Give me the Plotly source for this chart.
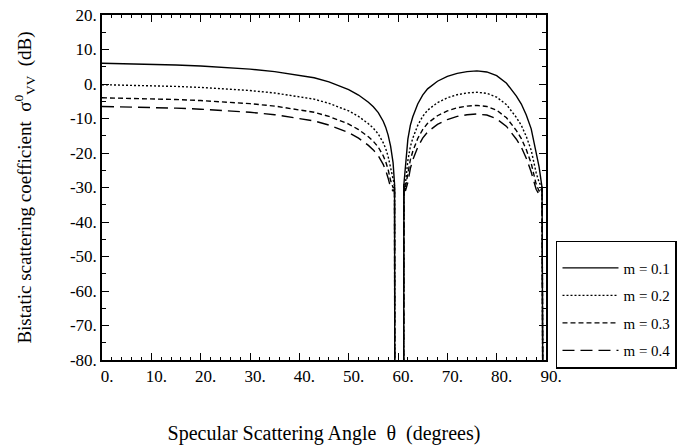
import plotly.graph_objects as go

# ---- data ----
theta_left = [0, 5, 10, 15, 20, 25, 30, 35, 40, 43, 46, 48, 50, 52, 53, 54, 55, 56, 57, 57.5, 58, 58.5, 59.0, 59.3, 59.4]
theta_right = [61.1, 61.2, 61.5, 62, 62.5, 63, 64, 65, 66, 68, 70, 72, 74, 76, 78, 80, 82, 84, 85, 86, 87, 88, 88.6, 89.2, 89.5]

m01_left = [6.0, 5.9, 5.7, 5.5, 5.2, 4.8, 4.3, 3.6, 2.6, 1.8, 0.6, -0.4, -1.6, -3.2, -4.2, -5.3, -6.6, -8.3, -10.8, -12.5, -14.8, -18.0, -22.8, -29.0, -150]
m02_left = [-0.2, -0.3, -0.5, -0.7, -1.0, -1.4, -1.9, -2.6, -3.6, -4.4, -5.6, -6.6, -7.8, -9.4, -10.4, -11.5, -12.8, -14.5, -17.0, -18.7, -21.0, -24.2, -28.0, -29.5, -150]
m03_left = [-4.0, -4.1, -4.3, -4.5, -4.8, -5.2, -5.7, -6.4, -7.4, -8.2, -9.4, -10.4, -11.6, -13.2, -14.2, -15.3, -16.6, -18.3, -20.8, -22.5, -24.8, -28.0, -30.0, -30.0, -150]
m04_left = [-6.5, -6.6, -6.8, -7.0, -7.3, -7.7, -8.2, -8.9, -9.9, -10.7, -11.9, -12.9, -14.1, -15.7, -16.7, -17.8, -19.1, -20.8, -23.3, -25.0, -27.3, -30.0, -31.0, -30.5, -150]

m01_right = [-150, -29.0, -23.0, -16.0, -12.0, -9.5, -5.8, -3.2, -1.4, 0.8, 2.2, 3.1, 3.6, 3.8, 3.5, 2.4, 0.2, -3.5, -5.8, -9.0, -13.0, -19.5, -24.0, -30.0, -150]
m02_right = [-150, -29.0, -29.0, -22.2, -18.2, -15.7, -12.0, -9.4, -7.6, -5.4, -4.0, -3.1, -2.6, -2.4, -2.7, -3.8, -6.0, -9.7, -12.0, -15.2, -19.2, -25.7, -28.5, -30.0, -150]
m03_right = [-150, -29.0, -30.0, -26.0, -22.0, -19.5, -15.8, -13.2, -11.4, -9.2, -7.8, -6.9, -6.4, -6.2, -6.5, -7.6, -9.8, -13.5, -15.8, -19.0, -23.0, -29.0, -31.0, -30.0, -150]
m04_right = [-150, -29.0, -31.0, -28.5, -24.5, -22.0, -18.3, -15.7, -13.9, -11.7, -10.3, -9.4, -8.9, -8.7, -9.0, -10.1, -12.3, -16.0, -18.3, -21.5, -25.5, -30.5, -32.0, -30.0, -150]

series_names = ["m = 0.1", "m = 0.2", "m = 0.3", "m = 0.4"]
series_left = [m01_left, m02_left, m03_left, m04_left]
series_right = [m01_right, m02_right, m03_right, m04_right]
dashes = ["solid", "2px,2px", "5px,3px", "12px,6px"]

x_tickvals = [0, 10, 20, 30, 40, 50, 60, 70, 80, 90]
x_ticktext = ["0.", "10.", "20.", "30.", "40.", "50.", "60.", "70.", "80.", "90."]
y_tickvals = [20, 10, 0, -10, -20, -30, -40, -50, -60, -70, -80]
y_ticktext = ["20.", "10.", "0.", "-10.", "-20.", "-30.", "-40.", "-50.", "-60.", "-70.", "-80."]

FONT = "Liberation Serif"

fig = go.Figure()
for i, name in enumerate(series_names):
    fig.add_trace(go.Scatter(
        x=theta_left + theta_right,
        y=series_left[i] + series_right[i],
        mode="lines",
        name=name,
        legendgroup=name,
        line=dict(color="black", width=1.4, dash=dashes[i]),
    ))

axis_common = dict(
    showline=True, linecolor="black", linewidth=1.5, mirror="allticks",
    ticks="inside", tickcolor="black", tickwidth=1.2,
    showgrid=False, zeroline=False,
    tickfont=dict(family=FONT, size=17, color="black"),
)

fig.update_xaxes(
    range=[0, 90], tickvals=x_tickvals, ticktext=x_ticktext, ticklen=7,
    ticklabelshift=5,
    minor=dict(dtick=2, ticks="inside", ticklen=3, tickcolor="black", tickwidth=1),
    title=dict(text="Specular Scattering Angle  θ  (degrees)",
               font=dict(family=FONT, size=20, color="black"), standoff=41),
    **axis_common,
)
fig.update_yaxes(
    range=[-80, 20], tickvals=y_tickvals, ticktext=y_ticktext, ticklen=7,
    minor=dict(dtick=5, tick0=0, ticks="inside", ticklen=4, tickcolor="black", tickwidth=1),
    title=dict(text="Bistatic scattering coefficient  σ<sup>0</sup><sub>VV</sub>  (dB)",
               font=dict(family=FONT, size=19, color="black"), standoff=33),
    **axis_common,
)

fig.update_layout(
    width=677, height=446,
    margin=dict(l=102, r=131, t=15, b=86, autoexpand=False),
    paper_bgcolor="white", plot_bgcolor="white",
    legend=dict(
        x=1.0225, y=0.345, xanchor="left", yanchor="top",
        bordercolor="black", borderwidth=1.5, bgcolor="white",
        font=dict(family=FONT, size=15, color="black"),
        itemwidth=56, tracegroupgap=5,
        title=dict(text=" ", font=dict(family=FONT, size=7)),
    ),
)

fig.write_html("out.html")
